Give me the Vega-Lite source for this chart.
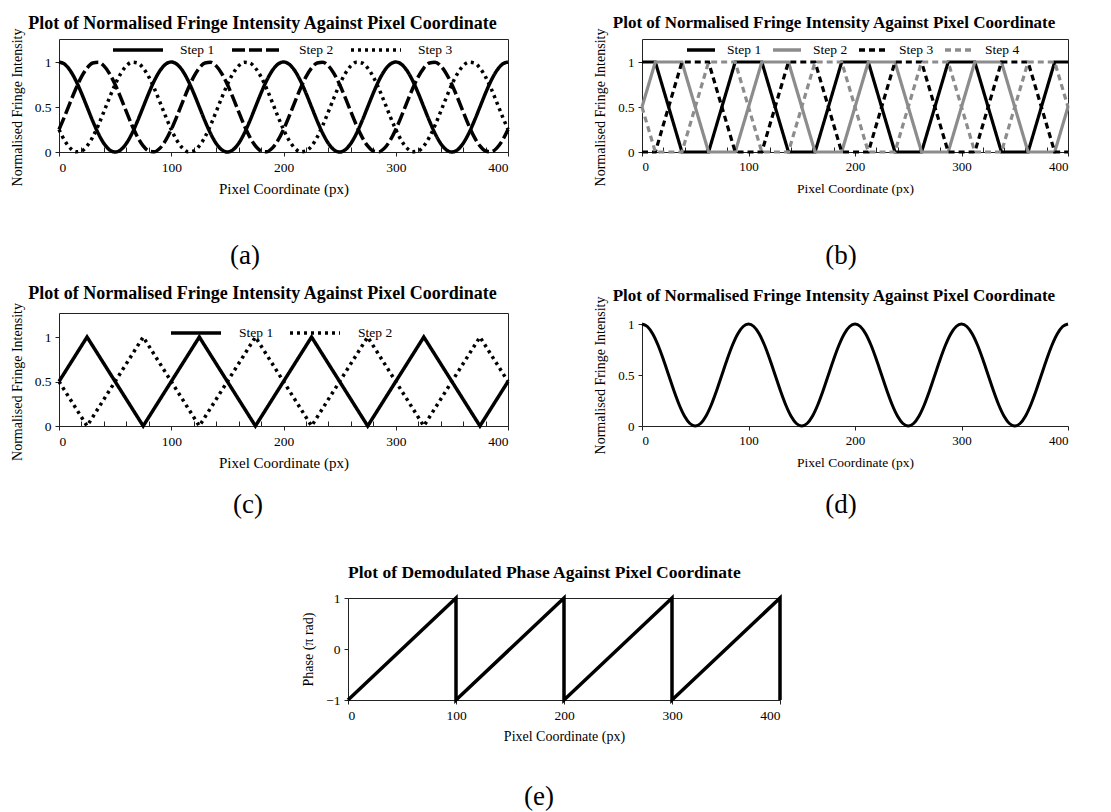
{
"$schema": "https://vega.github.io/schema/vega-lite/v6.json",
"padding": {"left": 9, "top": 13, "right": 0, "bottom": 0},
"config": {
  "font": "Liberation Serif",
  "view": {"stroke": null},
  "axis": {"labelFont": "Liberation Serif", "titleFont": "Liberation Serif", "labelFontSize": 13.5, "titleFontSize": 14, "titleFontWeight": "normal", "labelColor": "black", "titleColor": "black", "domainColor": "#222", "tickColor": "#222", "grid": false, "labelPadding": 4, "tickSize": 4, "titlePadding": 8},
  "axisX": {"titleFontSize": 15},
  "axisY": {"titlePadding": 10, "format": "~g"},
  "title": {"font": "Liberation Serif", "fontSize": 18, "fontWeight": "bold", "color": "black", "frame": "bounds", "anchor": "middle"},
  "legend": {"labelFont": "Liberation Serif", "labelFontSize": 13.5, "labelColor": "black", "title": null, "padding": 0},
  "line": {"strokeCap": "butt"}
},
"datasets": {
"fa": [
{"x":0,"s":"Step 1","y":1},{"x":5,"s":"Step 1","y":0.9755},{"x":10,"s":"Step 1","y":0.9045},{"x":15,"s":"Step 1","y":0.7939},{"x":20,"s":"Step 1","y":0.6545},{"x":25,"s":"Step 1","y":0.5},{"x":30,"s":"Step 1","y":0.3455},{"x":35,"s":"Step 1","y":0.2061},{"x":40,"s":"Step 1","y":0.0955},{"x":45,"s":"Step 1","y":0.0245},{"x":50,"s":"Step 1","y":0},{"x":55,"s":"Step 1","y":0.0245},{"x":60,"s":"Step 1","y":0.0955},{"x":65,"s":"Step 1","y":0.2061},{"x":70,"s":"Step 1","y":0.3455},{"x":75,"s":"Step 1","y":0.5},{"x":80,"s":"Step 1","y":0.6545},{"x":85,"s":"Step 1","y":0.7939},{"x":90,"s":"Step 1","y":0.9045},{"x":95,"s":"Step 1","y":0.9755},
{"x":100,"s":"Step 1","y":1},{"x":105,"s":"Step 1","y":0.9755},{"x":110,"s":"Step 1","y":0.9045},{"x":115,"s":"Step 1","y":0.7939},{"x":120,"s":"Step 1","y":0.6545},{"x":125,"s":"Step 1","y":0.5},{"x":130,"s":"Step 1","y":0.3455},{"x":135,"s":"Step 1","y":0.2061},{"x":140,"s":"Step 1","y":0.0955},{"x":145,"s":"Step 1","y":0.0245},{"x":150,"s":"Step 1","y":0},{"x":155,"s":"Step 1","y":0.0245},{"x":160,"s":"Step 1","y":0.0955},{"x":165,"s":"Step 1","y":0.2061},{"x":170,"s":"Step 1","y":0.3455},{"x":175,"s":"Step 1","y":0.5},{"x":180,"s":"Step 1","y":0.6545},{"x":185,"s":"Step 1","y":0.7939},{"x":190,"s":"Step 1","y":0.9045},{"x":195,"s":"Step 1","y":0.9755},
{"x":200,"s":"Step 1","y":1},{"x":205,"s":"Step 1","y":0.9755},{"x":210,"s":"Step 1","y":0.9045},{"x":215,"s":"Step 1","y":0.7939},{"x":220,"s":"Step 1","y":0.6545},{"x":225,"s":"Step 1","y":0.5},{"x":230,"s":"Step 1","y":0.3455},{"x":235,"s":"Step 1","y":0.2061},{"x":240,"s":"Step 1","y":0.0955},{"x":245,"s":"Step 1","y":0.0245},{"x":250,"s":"Step 1","y":0},{"x":255,"s":"Step 1","y":0.0245},{"x":260,"s":"Step 1","y":0.0955},{"x":265,"s":"Step 1","y":0.2061},{"x":270,"s":"Step 1","y":0.3455},{"x":275,"s":"Step 1","y":0.5},{"x":280,"s":"Step 1","y":0.6545},{"x":285,"s":"Step 1","y":0.7939},{"x":290,"s":"Step 1","y":0.9045},{"x":295,"s":"Step 1","y":0.9755},
{"x":300,"s":"Step 1","y":1},{"x":305,"s":"Step 1","y":0.9755},{"x":310,"s":"Step 1","y":0.9045},{"x":315,"s":"Step 1","y":0.7939},{"x":320,"s":"Step 1","y":0.6545},{"x":325,"s":"Step 1","y":0.5},{"x":330,"s":"Step 1","y":0.3455},{"x":335,"s":"Step 1","y":0.2061},{"x":340,"s":"Step 1","y":0.0955},{"x":345,"s":"Step 1","y":0.0245},{"x":350,"s":"Step 1","y":0},{"x":355,"s":"Step 1","y":0.0245},{"x":360,"s":"Step 1","y":0.0955},{"x":365,"s":"Step 1","y":0.2061},{"x":370,"s":"Step 1","y":0.3455},{"x":375,"s":"Step 1","y":0.5},{"x":380,"s":"Step 1","y":0.6545},{"x":385,"s":"Step 1","y":0.7939},{"x":390,"s":"Step 1","y":0.9045},{"x":395,"s":"Step 1","y":0.9755},
{"x":400,"s":"Step 1","y":1},
{"x":0,"s":"Step 2","y":0.25},{"x":5,"s":"Step 2","y":0.396},{"x":10,"s":"Step 2","y":0.5523},{"x":15,"s":"Step 2","y":0.7034},{"x":20,"s":"Step 2","y":0.8346},{"x":25,"s":"Step 2","y":0.933},{"x":30,"s":"Step 2","y":0.9891},{"x":35,"s":"Step 2","y":0.9973},{"x":40,"s":"Step 2","y":0.9568},{"x":45,"s":"Step 2","y":0.8716},{"x":50,"s":"Step 2","y":0.75},{"x":55,"s":"Step 2","y":0.604},{"x":60,"s":"Step 2","y":0.4477},{"x":65,"s":"Step 2","y":0.2966},{"x":70,"s":"Step 2","y":0.1654},{"x":75,"s":"Step 2","y":0.067},{"x":80,"s":"Step 2","y":0.0109},{"x":85,"s":"Step 2","y":0.0027},{"x":90,"s":"Step 2","y":0.0432},{"x":95,"s":"Step 2","y":0.1284},
{"x":100,"s":"Step 2","y":0.25},{"x":105,"s":"Step 2","y":0.396},{"x":110,"s":"Step 2","y":0.5523},{"x":115,"s":"Step 2","y":0.7034},{"x":120,"s":"Step 2","y":0.8346},{"x":125,"s":"Step 2","y":0.933},{"x":130,"s":"Step 2","y":0.9891},{"x":135,"s":"Step 2","y":0.9973},{"x":140,"s":"Step 2","y":0.9568},{"x":145,"s":"Step 2","y":0.8716},{"x":150,"s":"Step 2","y":0.75},{"x":155,"s":"Step 2","y":0.604},{"x":160,"s":"Step 2","y":0.4477},{"x":165,"s":"Step 2","y":0.2966},{"x":170,"s":"Step 2","y":0.1654},{"x":175,"s":"Step 2","y":0.067},{"x":180,"s":"Step 2","y":0.0109},{"x":185,"s":"Step 2","y":0.0027},{"x":190,"s":"Step 2","y":0.0432},{"x":195,"s":"Step 2","y":0.1284},
{"x":200,"s":"Step 2","y":0.25},{"x":205,"s":"Step 2","y":0.396},{"x":210,"s":"Step 2","y":0.5523},{"x":215,"s":"Step 2","y":0.7034},{"x":220,"s":"Step 2","y":0.8346},{"x":225,"s":"Step 2","y":0.933},{"x":230,"s":"Step 2","y":0.9891},{"x":235,"s":"Step 2","y":0.9973},{"x":240,"s":"Step 2","y":0.9568},{"x":245,"s":"Step 2","y":0.8716},{"x":250,"s":"Step 2","y":0.75},{"x":255,"s":"Step 2","y":0.604},{"x":260,"s":"Step 2","y":0.4477},{"x":265,"s":"Step 2","y":0.2966},{"x":270,"s":"Step 2","y":0.1654},{"x":275,"s":"Step 2","y":0.067},{"x":280,"s":"Step 2","y":0.0109},{"x":285,"s":"Step 2","y":0.0027},{"x":290,"s":"Step 2","y":0.0432},{"x":295,"s":"Step 2","y":0.1284},
{"x":300,"s":"Step 2","y":0.25},{"x":305,"s":"Step 2","y":0.396},{"x":310,"s":"Step 2","y":0.5523},{"x":315,"s":"Step 2","y":0.7034},{"x":320,"s":"Step 2","y":0.8346},{"x":325,"s":"Step 2","y":0.933},{"x":330,"s":"Step 2","y":0.9891},{"x":335,"s":"Step 2","y":0.9973},{"x":340,"s":"Step 2","y":0.9568},{"x":345,"s":"Step 2","y":0.8716},{"x":350,"s":"Step 2","y":0.75},{"x":355,"s":"Step 2","y":0.604},{"x":360,"s":"Step 2","y":0.4477},{"x":365,"s":"Step 2","y":0.2966},{"x":370,"s":"Step 2","y":0.1654},{"x":375,"s":"Step 2","y":0.067},{"x":380,"s":"Step 2","y":0.0109},{"x":385,"s":"Step 2","y":0.0027},{"x":390,"s":"Step 2","y":0.0432},{"x":395,"s":"Step 2","y":0.1284},
{"x":400,"s":"Step 2","y":0.25},
{"x":0,"s":"Step 3","y":0.25},{"x":5,"s":"Step 3","y":0.1284},{"x":10,"s":"Step 3","y":0.0432},{"x":15,"s":"Step 3","y":0.0027},{"x":20,"s":"Step 3","y":0.0109},{"x":25,"s":"Step 3","y":0.067},{"x":30,"s":"Step 3","y":0.1654},{"x":35,"s":"Step 3","y":0.2966},{"x":40,"s":"Step 3","y":0.4477},{"x":45,"s":"Step 3","y":0.604},{"x":50,"s":"Step 3","y":0.75},{"x":55,"s":"Step 3","y":0.8716},{"x":60,"s":"Step 3","y":0.9568},{"x":65,"s":"Step 3","y":0.9973},{"x":70,"s":"Step 3","y":0.9891},{"x":75,"s":"Step 3","y":0.933},{"x":80,"s":"Step 3","y":0.8346},{"x":85,"s":"Step 3","y":0.7034},{"x":90,"s":"Step 3","y":0.5523},{"x":95,"s":"Step 3","y":0.396},
{"x":100,"s":"Step 3","y":0.25},{"x":105,"s":"Step 3","y":0.1284},{"x":110,"s":"Step 3","y":0.0432},{"x":115,"s":"Step 3","y":0.0027},{"x":120,"s":"Step 3","y":0.0109},{"x":125,"s":"Step 3","y":0.067},{"x":130,"s":"Step 3","y":0.1654},{"x":135,"s":"Step 3","y":0.2966},{"x":140,"s":"Step 3","y":0.4477},{"x":145,"s":"Step 3","y":0.604},{"x":150,"s":"Step 3","y":0.75},{"x":155,"s":"Step 3","y":0.8716},{"x":160,"s":"Step 3","y":0.9568},{"x":165,"s":"Step 3","y":0.9973},{"x":170,"s":"Step 3","y":0.9891},{"x":175,"s":"Step 3","y":0.933},{"x":180,"s":"Step 3","y":0.8346},{"x":185,"s":"Step 3","y":0.7034},{"x":190,"s":"Step 3","y":0.5523},{"x":195,"s":"Step 3","y":0.396},
{"x":200,"s":"Step 3","y":0.25},{"x":205,"s":"Step 3","y":0.1284},{"x":210,"s":"Step 3","y":0.0432},{"x":215,"s":"Step 3","y":0.0027},{"x":220,"s":"Step 3","y":0.0109},{"x":225,"s":"Step 3","y":0.067},{"x":230,"s":"Step 3","y":0.1654},{"x":235,"s":"Step 3","y":0.2966},{"x":240,"s":"Step 3","y":0.4477},{"x":245,"s":"Step 3","y":0.604},{"x":250,"s":"Step 3","y":0.75},{"x":255,"s":"Step 3","y":0.8716},{"x":260,"s":"Step 3","y":0.9568},{"x":265,"s":"Step 3","y":0.9973},{"x":270,"s":"Step 3","y":0.9891},{"x":275,"s":"Step 3","y":0.933},{"x":280,"s":"Step 3","y":0.8346},{"x":285,"s":"Step 3","y":0.7034},{"x":290,"s":"Step 3","y":0.5523},{"x":295,"s":"Step 3","y":0.396},
{"x":300,"s":"Step 3","y":0.25},{"x":305,"s":"Step 3","y":0.1284},{"x":310,"s":"Step 3","y":0.0432},{"x":315,"s":"Step 3","y":0.0027},{"x":320,"s":"Step 3","y":0.0109},{"x":325,"s":"Step 3","y":0.067},{"x":330,"s":"Step 3","y":0.1654},{"x":335,"s":"Step 3","y":0.2966},{"x":340,"s":"Step 3","y":0.4477},{"x":345,"s":"Step 3","y":0.604},{"x":350,"s":"Step 3","y":0.75},{"x":355,"s":"Step 3","y":0.8716},{"x":360,"s":"Step 3","y":0.9568},{"x":365,"s":"Step 3","y":0.9973},{"x":370,"s":"Step 3","y":0.9891},{"x":375,"s":"Step 3","y":0.933},{"x":380,"s":"Step 3","y":0.8346},{"x":385,"s":"Step 3","y":0.7034},{"x":390,"s":"Step 3","y":0.5523},{"x":395,"s":"Step 3","y":0.396},
{"x":400,"s":"Step 3","y":0.25}
],
"fb": [
{"x":0,"s":"Step 1","y":1},{"x":12.5,"s":"Step 1","y":1},{"x":37.5,"s":"Step 1","y":0},{"x":62.5,"s":"Step 1","y":0},{"x":87.5,"s":"Step 1","y":1},{"x":112.5,"s":"Step 1","y":1},{"x":137.5,"s":"Step 1","y":0},{"x":162.5,"s":"Step 1","y":0},{"x":187.5,"s":"Step 1","y":1},{"x":212.5,"s":"Step 1","y":1},{"x":237.5,"s":"Step 1","y":0},{"x":262.5,"s":"Step 1","y":0},{"x":287.5,"s":"Step 1","y":1},{"x":312.5,"s":"Step 1","y":1},{"x":337.5,"s":"Step 1","y":0},{"x":362.5,"s":"Step 1","y":0},{"x":387.5,"s":"Step 1","y":1},{"x":400,"s":"Step 1","y":1},
{"x":0,"s":"Step 2","y":0.5},{"x":12.5,"s":"Step 2","y":1},{"x":37.5,"s":"Step 2","y":1},{"x":62.5,"s":"Step 2","y":0},{"x":87.5,"s":"Step 2","y":0},{"x":112.5,"s":"Step 2","y":1},{"x":137.5,"s":"Step 2","y":1},{"x":162.5,"s":"Step 2","y":0},{"x":187.5,"s":"Step 2","y":0},{"x":212.5,"s":"Step 2","y":1},{"x":237.5,"s":"Step 2","y":1},{"x":262.5,"s":"Step 2","y":0},{"x":287.5,"s":"Step 2","y":0},{"x":312.5,"s":"Step 2","y":1},{"x":337.5,"s":"Step 2","y":1},{"x":362.5,"s":"Step 2","y":0},{"x":387.5,"s":"Step 2","y":0},{"x":400,"s":"Step 2","y":0.5},
{"x":0,"s":"Step 3","y":0},{"x":12.5,"s":"Step 3","y":0},{"x":37.5,"s":"Step 3","y":1},{"x":62.5,"s":"Step 3","y":1},{"x":87.5,"s":"Step 3","y":0},{"x":112.5,"s":"Step 3","y":0},{"x":137.5,"s":"Step 3","y":1},{"x":162.5,"s":"Step 3","y":1},{"x":187.5,"s":"Step 3","y":0},{"x":212.5,"s":"Step 3","y":0},{"x":237.5,"s":"Step 3","y":1},{"x":262.5,"s":"Step 3","y":1},{"x":287.5,"s":"Step 3","y":0},{"x":312.5,"s":"Step 3","y":0},{"x":337.5,"s":"Step 3","y":1},{"x":362.5,"s":"Step 3","y":1},{"x":387.5,"s":"Step 3","y":0},{"x":400,"s":"Step 3","y":0},
{"x":0,"s":"Step 4","y":0.5},{"x":12.5,"s":"Step 4","y":0},{"x":37.5,"s":"Step 4","y":0},{"x":62.5,"s":"Step 4","y":1},{"x":87.5,"s":"Step 4","y":1},{"x":112.5,"s":"Step 4","y":0},{"x":137.5,"s":"Step 4","y":0},{"x":162.5,"s":"Step 4","y":1},{"x":187.5,"s":"Step 4","y":1},{"x":212.5,"s":"Step 4","y":0},{"x":237.5,"s":"Step 4","y":0},{"x":262.5,"s":"Step 4","y":1},{"x":287.5,"s":"Step 4","y":1},{"x":312.5,"s":"Step 4","y":0},{"x":337.5,"s":"Step 4","y":0},{"x":362.5,"s":"Step 4","y":1},{"x":387.5,"s":"Step 4","y":1},{"x":400,"s":"Step 4","y":0.5}
],
"fc": [
{"x":0,"s":"Step 1","y":0.5},{"x":25,"s":"Step 1","y":1},{"x":75,"s":"Step 1","y":0},{"x":125,"s":"Step 1","y":1},{"x":175,"s":"Step 1","y":0},{"x":225,"s":"Step 1","y":1},{"x":275,"s":"Step 1","y":0},{"x":325,"s":"Step 1","y":1},{"x":375,"s":"Step 1","y":0},{"x":400,"s":"Step 1","y":0.5},
{"x":0,"s":"Step 2","y":0.5},{"x":25,"s":"Step 2","y":0},{"x":75,"s":"Step 2","y":1},{"x":125,"s":"Step 2","y":0},{"x":175,"s":"Step 2","y":1},{"x":225,"s":"Step 2","y":0},{"x":275,"s":"Step 2","y":1},{"x":325,"s":"Step 2","y":0},{"x":375,"s":"Step 2","y":1},{"x":400,"s":"Step 2","y":0.5}
],
"fe": [
{"i":0,"x":0,"y":-1},{"i":1,"x":100,"y":1},{"i":2,"x":100,"y":-1},{"i":3,"x":200,"y":1},{"i":4,"x":200,"y":-1},{"i":5,"x":300,"y":1},{"i":6,"x":300,"y":-1},{"i":7,"x":400,"y":1},{"i":8,"x":400,"y":-1}
],
"blank": [{"t": ""}]
},
"columns": 2,
"bounds": "flush",
"spacing": {"row": 0, "column": 134},
"resolve": {"scale": {"strokeDash": "independent", "color": "independent"}, "legend": {"strokeDash": "independent", "color": "independent"}},
"concat": [
 {
  "width": 449, "height": 113,
  "title": {"text": "Plot of Normalised Fringe Intensity Against Pixel Coordinate", "offset": -10},
  "view": {"stroke": "#222"},
  "data": {"name": "fa"},
  "mark": {"type": "line", "strokeWidth": 3.5, "interpolate": "monotone", "color": "black"},
  "encoding": {
   "x": {"field": "x", "type": "quantitative", "scale": {"domain": [0, 400], "nice": false, "zero": false}, "title": "Pixel Coordinate (px)",
         "axis": {"values": [0,20,40,60,80,100,120,140,160,180,200,220,240,260,280,300,320,340,360,380,400], "labelExpr": "datum.value % 100 === 0 ? datum.label : ''", "labelOverlap": false, "tickSize": {"condition": {"test": "datum.value % 100 === 0", "value": 4}, "value": -5}}},
   "y": {"field": "y", "type": "quantitative", "scale": {"domain": [0, 1], "nice": false, "range": [113, 23]}, "title": "Normalised Fringe Intensity", "axis": {"values": [0, 0.5, 1]}},
   "strokeDash": {"field": "s", "type": "nominal", "scale": {"domain": ["Step 1", "Step 2", "Step 3"], "range": [[1, 0], [13, 4], [3, 4]]},
         "legend": {"orient": "none", "direction": "horizontal", "legendX": 52, "legendY": -16, "symbolType": "stroke", "symbolSize": 2500, "symbolStrokeWidth": 3.5, "symbolStrokeColor": "black", "labelOffset": 15, "columnPadding": 10}}
  }
 },
 {
  "width": 426, "height": 113,
  "title": {"text": "Plot of Normalised Fringe Intensity Against Pixel Coordinate", "offset": -4, "fontSize": 17},
  "view": {"stroke": "#222"},
  "data": {"name": "fb"},
  "mark": {"type": "line", "strokeWidth": 3.2},
  "encoding": {
   "x": {"field": "x", "type": "quantitative", "scale": {"domain": [0, 400], "nice": false, "zero": false}, "title": "Pixel Coordinate (px)",
         "axis": {"titleFontSize": 13.5, "labelFontSize": 13, "values": [0,20,40,60,80,100,120,140,160,180,200,220,240,260,280,300,320,340,360,380,400], "labelExpr": "datum.value % 100 === 0 ? datum.label : ''", "labelOverlap": false, "tickSize": {"condition": {"test": "datum.value % 100 === 0", "value": 4}, "value": -5}}},
   "y": {"field": "y", "type": "quantitative", "scale": {"domain": [0, 1], "nice": false, "range": [113, 23]}, "title": "Normalised Fringe Intensity", "axis": {"values": [0, 0.5, 1], "labelFontSize": 13}},
   "color": {"field": "s", "type": "nominal", "scale": {"domain": ["Step 1", "Step 2", "Step 3", "Step 4"], "range": ["black", "#8c8c8c", "black", "#8c8c8c"]},
         "legend": {"orient": "none", "direction": "horizontal", "legendX": 43, "legendY": -5, "symbolType": "stroke", "symbolSize": 784, "symbolStrokeWidth": 3.5, "labelOffset": 10, "columnPadding": 4}},
   "strokeDash": {"field": "s", "type": "nominal", "scale": {"domain": ["Step 1", "Step 2", "Step 3", "Step 4"], "range": [[1, 0], [1, 0], [6, 4], [6, 4]]},
         "legend": {"orient": "none", "direction": "horizontal", "legendX": 43, "legendY": -5, "symbolType": "stroke", "symbolSize": 784, "symbolStrokeWidth": 3.5, "labelOffset": 10, "columnPadding": 4}}
  }
 },
 {"width": 449, "height": 47, "data": {"name": "blank"}, "mark": "text", "encoding": {"text": {"field": "t"}}},
 {"width": 10, "height": 47, "data": {"name": "blank"}, "mark": "text", "encoding": {"text": {"field": "t"}}},
 {"width": 372, "height": 114, "data": {"values": [{"t": "(a)"}]}, "mark": {"type": "text", "fontSize": 27, "font": "Liberation Serif"}, "encoding": {"text": {"field": "t"}}},
 {"width": 398, "height": 114, "data": {"values": [{"t": "(b)"}]}, "mark": {"type": "text", "fontSize": 27, "font": "Liberation Serif"}, "encoding": {"text": {"field": "t"}}},
 {
  "width": 449, "height": 113,
  "title": {"text": "Plot of Normalised Fringe Intensity Against Pixel Coordinate", "offset": 0},
  "view": {"stroke": "#222"},
  "data": {"name": "fc"},
  "mark": {"type": "line", "strokeWidth": 3.5, "color": "black"},
  "encoding": {
   "x": {"field": "x", "type": "quantitative", "scale": {"domain": [0, 400], "nice": false, "zero": false}, "title": "Pixel Coordinate (px)",
         "axis": {"values": [0,20,40,60,80,100,120,140,160,180,200,220,240,260,280,300,320,340,360,380,400], "labelExpr": "datum.value % 100 === 0 ? datum.label : ''", "labelOverlap": false, "tickSize": {"condition": {"test": "datum.value % 100 === 0", "value": 4}, "value": -5}}},
   "y": {"field": "y", "type": "quantitative", "scale": {"domain": [0, 1], "nice": false, "range": [113, 24]}, "title": "Normalised Fringe Intensity", "axis": {"values": [0, 0.5, 1]}},
   "strokeDash": {"field": "s", "type": "nominal", "scale": {"domain": ["Step 1", "Step 2"], "range": [[1, 0], [3, 4]]},
         "legend": {"orient": "none", "direction": "horizontal", "legendX": 110, "legendY": -7, "symbolType": "stroke", "symbolSize": 2500, "symbolStrokeWidth": 3.5, "symbolStrokeColor": "black", "labelOffset": 16, "columnPadding": 9}}
  }
 },
 {
  "width": 426, "height": 113,
  "title": {"text": "Plot of Normalised Fringe Intensity Against Pixel Coordinate", "offset": -9, "fontSize": 17},
  "layer": [
   {
    "data": {"name": "fa"},
    "transform": [{"filter": "datum.s === 'Step 1'"}],
    "mark": {"type": "line", "strokeWidth": 3, "interpolate": "monotone", "color": "black"},
    "encoding": {
     "x": {"field": "x", "type": "quantitative", "scale": {"domain": [0, 400], "nice": false, "zero": false}, "title": "Pixel Coordinate (px)", "axis": {"values": [0, 100, 200, 300, 400], "titleFontSize": 13.5, "labelFontSize": 13}},
     "y": {"field": "y", "type": "quantitative", "scale": {"domain": [0, 1], "nice": false, "range": [113, 11]}, "title": "Normalised Fringe Intensity", "axis": {"values": [0, 0.5, 1], "labelFontSize": 13}}
    }
   },
   {
    "mark": {"type": "rule", "color": "#222", "strokeWidth": 1},
    "encoding": {"y": {"datum": 1}}
   },
   {
    "mark": {"type": "rule", "color": "#222", "strokeWidth": 1},
    "encoding": {"x": {"datum": 400}, "y": {"datum": 0}, "y2": {"datum": 1}}
   }
  ]
 },
 {"width": 449, "height": 59, "data": {"name": "blank"}, "mark": "text", "encoding": {"text": {"field": "t"}}},
 {"width": 10, "height": 59, "data": {"name": "blank"}, "mark": "text", "encoding": {"text": {"field": "t"}}},
 {"width": 378, "height": 40, "data": {"values": [{"t": "(c)"}]}, "mark": {"type": "text", "fontSize": 27, "font": "Liberation Serif"}, "encoding": {"text": {"field": "t"}}},
 {"width": 398, "height": 40, "data": {"values": [{"t": "(d)"}]}, "mark": {"type": "text", "fontSize": 27, "font": "Liberation Serif"}, "encoding": {"text": {"field": "t"}}},
 {"width": 449, "height": 73, "data": {"name": "blank"}, "mark": "text", "encoding": {"text": {"field": "t"}}},
 {"width": 10, "height": 73, "data": {"name": "blank"}, "mark": "text", "encoding": {"text": {"field": "t"}}},
 {
  "hconcat": [
   {"width": 289, "height": 102, "data": {"name": "blank"}, "mark": "text", "encoding": {"text": {"field": "t"}}},
   {
    "vconcat": [
     {
      "width": 432, "height": 102,
      "title": {"text": "Plot of Demodulated Phase Against Pixel Coordinate", "offset": 10, "fontSize": 17.5},
      "view": {"stroke": "#222"},
      "data": {"name": "fe"},
      "mark": {"type": "line", "strokeWidth": 3.5, "color": "black"},
      "encoding": {
       "x": {"field": "x", "type": "quantitative", "scale": {"domain": [0, 400], "nice": false, "zero": false}, "title": "Pixel Coordinate (px)", "axis": {"values": [0, 100, 200, 300, 400], "titleFontSize": 14}},
       "y": {"field": "y", "type": "quantitative", "scale": {"domain": [-1, 1], "nice": false}, "title": "Phase (π rad)", "axis": {"values": [-1, 0, 1]}},
       "order": {"field": "i", "type": "quantitative"}
      }
     },
     {"width": 10, "height": 82, "data": {"name": "blank"}, "mark": "text", "encoding": {"text": {"field": "t"}}},
     {"width": 382, "height": 30, "data": {"values": [{"t": "(e)"}]}, "mark": {"type": "text", "fontSize": 27, "font": "Liberation Serif"}, "encoding": {"text": {"field": "t"}}}
    ],
    "spacing": 0, "bounds": "flush"
   }
  ],
  "spacing": 0, "bounds": "flush"
 }
]
}
